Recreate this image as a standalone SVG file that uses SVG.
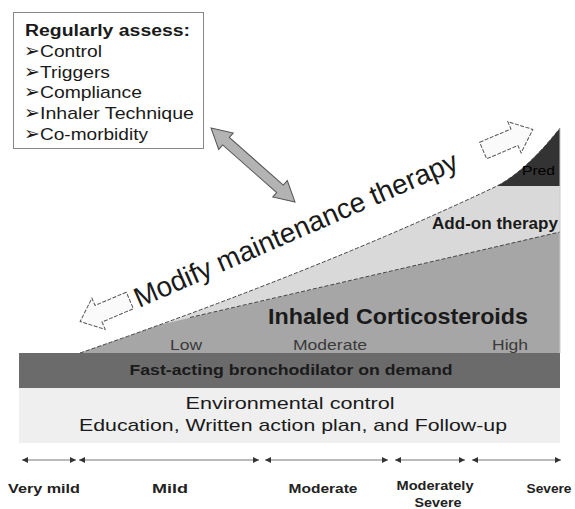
<svg xmlns="http://www.w3.org/2000/svg" width="575" height="509" viewBox="0 0 575 509">
<style>
.t{font-family:"Liberation Sans",Arial,sans-serif;fill:#1a1a1a}
.b{font-weight:bold}
.lvl{font-family:"Liberation Sans",Arial,sans-serif;font-size:15px;fill:#3a3a3a}
.sev{font-family:"Liberation Sans",Arial,sans-serif;font-size:13px;font-weight:bold;fill:#222;text-anchor:middle}
.bul{font-family:"DejaVu Sans",sans-serif;font-size:19px;fill:#1a1a1a}
.hollow{fill:#fafafa;stroke:#555;stroke-width:1;stroke-dasharray:4 1.5}
.tl{stroke:#777;stroke-width:1;marker-start:url(#ah);marker-end:url(#ah)}
</style>
<defs>
<clipPath id="wedge"><path d="M80,353 Q320,270 497,186 Q527,170 560,128 L560,353 Z"/></clipPath>
<marker id="ah" viewBox="0 0 6 6" refX="6" refY="3" markerWidth="6" markerHeight="6" markerUnits="userSpaceOnUse" orient="auto-start-reverse"><path d="M0,0 L6,3 L0,6 Z" fill="#333"/></marker>
</defs>

<g id="base-env">
<rect x="19" y="388" width="541" height="55" fill="#efefef"/>
<text class="t" x="290" y="409" font-size="17" text-anchor="middle" textLength="209" lengthAdjust="spacingAndGlyphs">Environmental control</text>
<text class="t" x="293" y="431" font-size="17" text-anchor="middle" textLength="428" lengthAdjust="spacingAndGlyphs">Education, Written action plan, and Follow-up</text>
</g>

<g id="bar-reliever">
<rect x="19" y="353" width="541" height="35" fill="#6b6b6b"/>
<text class="t b" x="291" y="375" font-size="15" text-anchor="middle" textLength="323" lengthAdjust="spacingAndGlyphs">Fast-acting bronchodilator on demand</text>
</g>

<g id="wedge-layers">
<g clip-path="url(#wedge)">
<rect x="60" y="100" width="510" height="260" fill="#d9d9d9"/>
<polygon points="60,348 560,232 560,353 60,353" fill="#a6a6a6"/>
<rect x="480" y="100" width="90" height="86" fill="#333"/>
<line x1="190" y1="317.5" x2="560" y2="232" stroke="#444" stroke-width="1" stroke-dasharray="4 2"/>
</g>
<path d="M80,353 Q320,270 497,186 Q527,170 560,128" fill="none" stroke="#444" stroke-width="1" stroke-dasharray="4 2"/>
<line x1="560" y1="128" x2="560" y2="353" stroke="#ccc" stroke-width="1"/>
</g>

<g id="pred"><text x="522" y="175" font-family="Liberation Sans, Arial, sans-serif" font-size="13" fill="#000" textLength="33" lengthAdjust="spacingAndGlyphs">Pred</text></g>
<g id="addon"><text class="t b" x="432" y="229" font-size="16" textLength="126" lengthAdjust="spacingAndGlyphs">Add-on therapy</text></g>
<g id="ics">
<text class="t b" x="268" y="324" font-size="22" textLength="260" lengthAdjust="spacingAndGlyphs">Inhaled Corticosteroids</text>
<text class="lvl" x="170" y="350" textLength="32" lengthAdjust="spacingAndGlyphs">Low</text>
<text class="lvl" x="293" y="350" textLength="74" lengthAdjust="spacingAndGlyphs">Moderate</text>
<text class="lvl" x="492" y="350" textLength="36" lengthAdjust="spacingAndGlyphs">High</text>
</g>

<g id="assess-box">
<rect x="13.5" y="12.5" width="190" height="136" fill="#fff" stroke="#888" stroke-width="1"/>
<text class="t b" x="25" y="36" font-size="16" textLength="165" lengthAdjust="spacingAndGlyphs">Regularly assess:</text>
<text class="bul" x="24" y="57">➢</text>
<text class="t" x="40" y="57" font-size="17" textLength="62" lengthAdjust="spacingAndGlyphs">Control</text>
<text class="bul" x="24" y="78">➢</text>
<text class="t" x="40" y="78" font-size="17" textLength="70" lengthAdjust="spacingAndGlyphs">Triggers</text>
<text class="bul" x="24" y="98">➢</text>
<text class="t" x="40" y="98" font-size="17" textLength="102" lengthAdjust="spacingAndGlyphs">Compliance</text>
<text class="bul" x="24" y="119">➢</text>
<text class="t" x="40" y="119" font-size="17" textLength="154" lengthAdjust="spacingAndGlyphs">Inhaler Technique</text>
<text class="bul" x="24" y="140">➢</text>
<text class="t" x="40" y="140" font-size="17" textLength="108" lengthAdjust="spacingAndGlyphs">Co-morbidity</text>
</g>

<g id="modify">
<text class="t" transform="translate(139,308) rotate(-23.5)" font-size="28" fill="#111" textLength="350" lengthAdjust="spacingAndGlyphs">Modify maintenance therapy</text>
</g>

<g id="connectors">
<polygon transform="translate(253,165) rotate(41.4)" points="-56,0 -36,-11 -36,-5 36,-5 36,-11 56,0 36,11 36,5 -36,5 -36,11" fill="#b3b3b3" stroke="#555" stroke-width="1"/>
<polygon class="hollow" transform="translate(105,311) rotate(-23) scale(-1,1)" points="-27,-9 7,-9 7,-17 27,0 7,17 7,9 -27,9"/>
<polygon class="hollow" transform="translate(508,140) rotate(-23)" points="-27,-9 7,-9 7,-17 27,0 7,17 7,9 -27,9"/>
<line class="tl" x1="22" y1="460" x2="76" y2="460"/>
<line class="tl" x1="79" y1="460" x2="259" y2="460"/>
<line class="tl" x1="265" y1="460" x2="388" y2="460"/>
<line class="tl" x1="395" y1="460" x2="465" y2="460"/>
<line class="tl" x1="472" y1="460" x2="561" y2="460"/>
</g>

<g id="severity">
<text class="sev" x="44" y="493" textLength="72" lengthAdjust="spacingAndGlyphs">Very mild</text>
<text class="sev" x="170" y="493" textLength="36" lengthAdjust="spacingAndGlyphs">Mild</text>
<text class="sev" x="323" y="493" textLength="69" lengthAdjust="spacingAndGlyphs">Moderate</text>
<text class="sev" x="435" y="490" textLength="77" lengthAdjust="spacingAndGlyphs">Moderately</text>
<text class="sev" x="438" y="507" textLength="47" lengthAdjust="spacingAndGlyphs">Severe</text>
<text class="sev" x="549" y="493" textLength="45" lengthAdjust="spacingAndGlyphs">Severe</text>
</g>
</svg>
